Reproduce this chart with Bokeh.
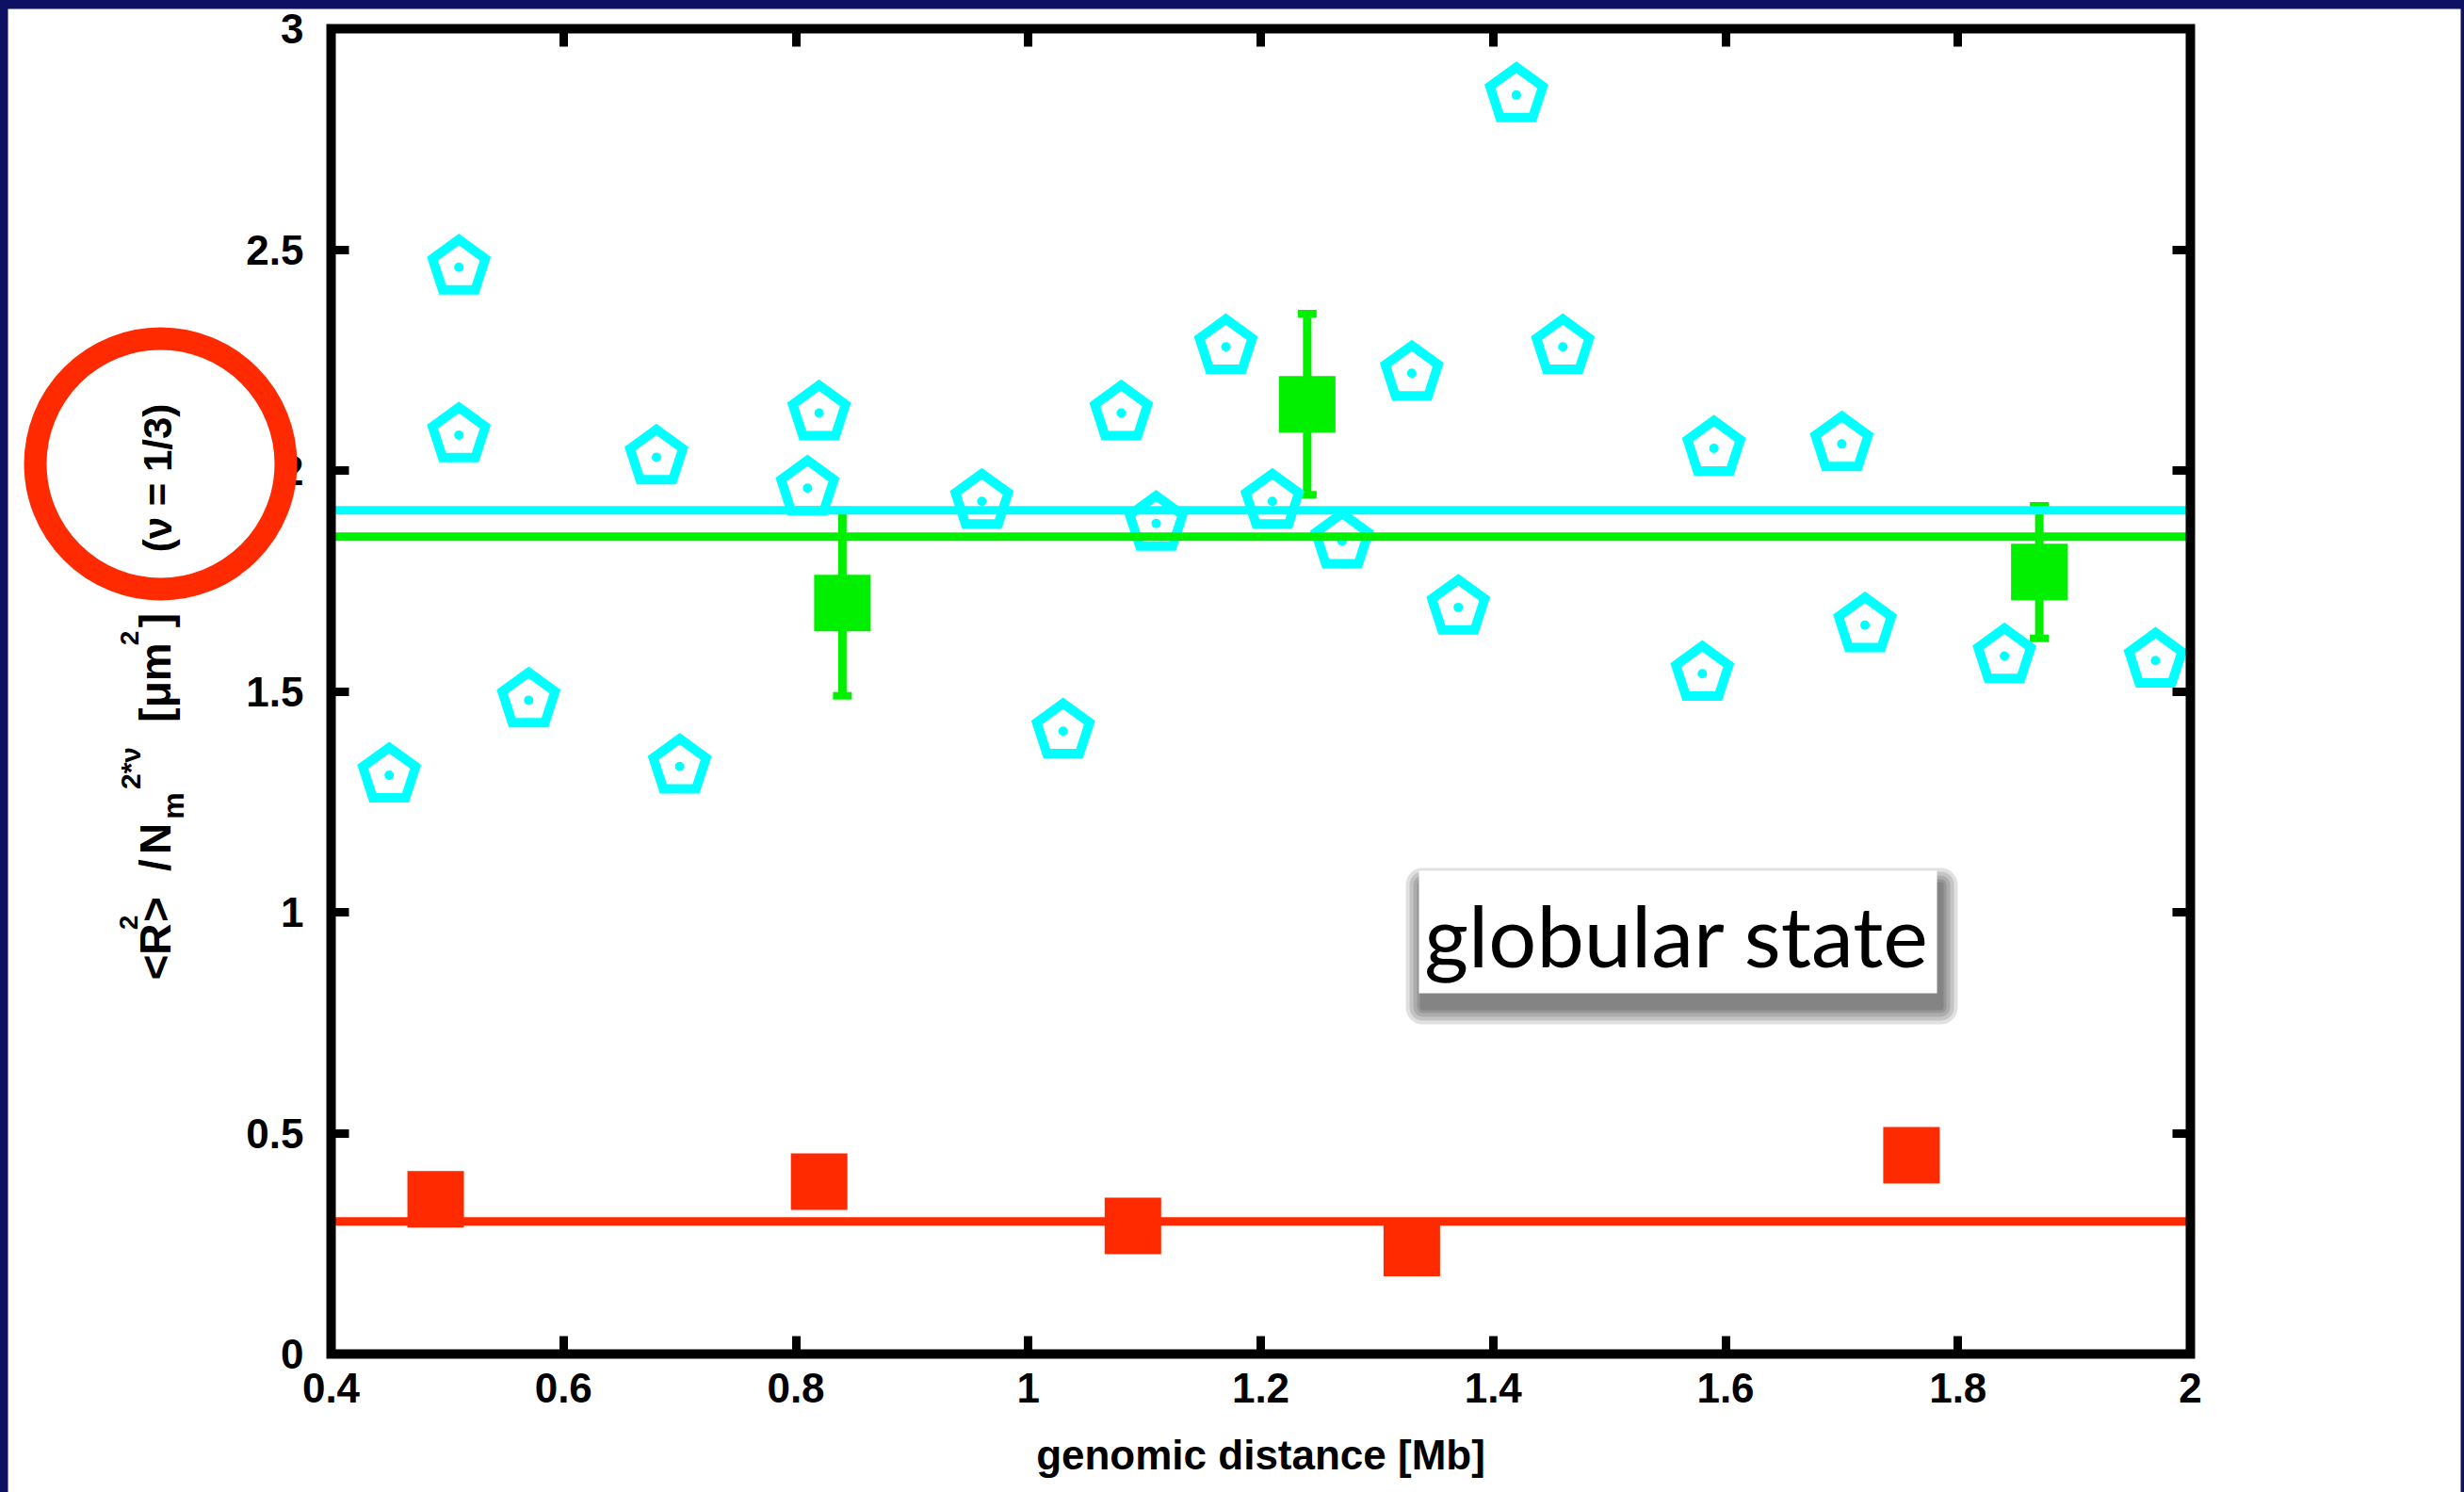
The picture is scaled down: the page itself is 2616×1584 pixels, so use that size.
import math
from bokeh.plotting import figure
from bokeh.models import (ColumnDataSource, Whisker, TeeHead, BoxAnnotation, Label,
                          LinearAxis, FixedTicker, CustomJSTickFormatter, Range1d)
from bokeh.embed import file_html
from bokeh.resources import INLINE

# ---------------- data ----------------
cyan_x = [0.45, 0.51, 0.51, 0.57, 0.68, 0.70, 0.82, 0.81, 0.96, 1.03, 1.08, 1.11, 1.17,
          1.21, 1.27, 1.33, 1.37, 1.42, 1.46, 1.58, 1.59, 1.70, 1.72, 1.84, 1.97]
cyan_y = [1.31, 2.46, 2.08, 1.48, 2.03, 1.33, 2.13, 1.96, 1.93, 1.41, 2.13, 1.88, 2.28,
          1.93, 1.84, 2.22, 1.69, 2.85, 2.28, 1.54, 2.05, 2.06, 1.65, 1.58, 1.57]
green_x = [0.84, 1.24, 1.87]
green_y = [1.70, 2.15, 1.77]
green_err = [0.21, 0.205, 0.15]
red_x = [0.49, 0.82, 1.09, 1.33, 1.76]
red_y = [0.35, 0.39, 0.29, 0.24, 0.45]
cyan_fit = 1.91
green_fit = 1.85
red_fit = 0.30
x_ticks = [0.4, 0.6, 0.8, 1.0, 1.2, 1.4, 1.6, 1.8, 2.0]
x_tick_labels = ["0.4", "0.6", "0.8", "1", "1.2", "1.4", "1.6", "1.8", "2"]
y_ticks = [0.0, 0.5, 1.0, 1.5, 2.0, 2.5, 3.0]
y_tick_labels = ["0", "0.5", "1", "1.5", "2", "2.5", "3"]
x_title = "genomic distance [Mb]"
note_text = "globular state"

# ---------------- layout / style ----------------
W, H = 2616, 1584
PL, PR, PT, PB = 351, 2325, 30, 1437     # plot box in page pixels
X0, X1 = x_ticks[0], x_ticks[-1]
Y0, Y1 = y_ticks[0], y_ticks[-1]
kx = (PR - PL) / (X1 - X0)
ky = (PB - PT) / (Y1 - Y0)
CYAN = "#00FFFF"
GREEN = "#00F000"
RED = "#FF2A00"
NAVY = "#0E1163"
FONT = "Liberation Sans"


def dx(page_x):          # page pixel -> data x
    return X0 + (page_x - PL) / kx


def dy(page_y):          # page pixel -> data y
    return Y0 + (PB - page_y) / ky


p = figure(width=W, height=H, output_backend="svg", toolbar_location=None,
           x_range=Range1d(dx(0), dx(W)), y_range=Range1d(dy(H), dy(0)),
           x_axis_location=None, y_axis_location=None,
           min_border=0, min_border_left=0, min_border_right=0,
           min_border_top=0, min_border_bottom=0)
p.grid.visible = False
p.background_fill_color = "white"
p.border_fill_color = "white"
p.outline_line_color = None


def style_axis(ax):
    ax.axis_line_color = None
    ax.major_tick_in = 19
    ax.major_tick_out = 0
    ax.major_tick_line_width = 9
    ax.major_tick_line_color = "black"
    ax.minor_tick_line_color = None
    ax.major_label_text_font = FONT
    ax.major_label_text_font_style = "bold"
    ax.major_label_text_font_size = "44px"
    ax.major_label_text_color = "black"


blank = CustomJSTickFormatter(code="return ''")

xa = LinearAxis(fixed_location=Y0, bounds=(X0, X1), ticker=FixedTicker(ticks=x_ticks),
                major_label_overrides=dict(zip(x_ticks, x_tick_labels)))
style_axis(xa)
xa.major_label_standoff = 20
xa.axis_label = x_title
xa.axis_label_text_font = FONT
xa.axis_label_text_font_style = "bold"
xa.axis_label_text_font_size = "44px"
xa.axis_label_text_color = "black"
xa.axis_label_standoff = 28
p.add_layout(xa, "below")

ya = LinearAxis(fixed_location=X0, bounds=(Y0, Y1), ticker=FixedTicker(ticks=y_ticks),
                major_label_overrides=dict(zip(y_ticks, y_tick_labels)))
style_axis(ya)
ya.major_label_standoff = 29
p.add_layout(ya, "left")

top_ax = LinearAxis(fixed_location=Y1, bounds=(X0, X1), ticker=FixedTicker(ticks=x_ticks),
                    formatter=blank, major_label_standoff=0)
style_axis(top_ax)
p.add_layout(top_ax, "above")
right_ax = LinearAxis(fixed_location=X1, bounds=(Y0, Y1), ticker=FixedTicker(ticks=y_ticks),
                      formatter=blank, major_label_standoff=0)
style_axis(right_ax)
p.add_layout(right_ax, "right")

# ---------------- data marks ----------------
cyan_src = ColumnDataSource(dict(x=cyan_x, y=cyan_y))
p.ngon(x="x", y="y", radius=29.5, radius_units="screen", n=5, angle=0.0,
       source=cyan_src, fill_color=None, line_color=CYAN, line_width=10, line_join="miter")
p.scatter(x="x", y="y", source=cyan_src, size=10, marker="circle",
          fill_color=CYAN, line_color=None)
p.segment(x0=[X0], x1=[X1], y0=[cyan_fit], y1=[cyan_fit], line_color=CYAN, line_width=9)

green_src = ColumnDataSource(dict(
    x=green_x, y=green_y,
    lo=[v - e for v, e in zip(green_y, green_err)],
    up=[v + e for v, e in zip(green_y, green_err)]))
p.scatter(x="x", y="y", source=green_src, marker="square", size=60,
          fill_color=GREEN, line_color=None)
p.add_layout(Whisker(source=green_src, base="x", lower="lo", upper="up", dimension="height",
                     line_color=GREEN, line_width=9,
                     upper_head=TeeHead(size=20, line_width=8, line_color=GREEN),
                     lower_head=TeeHead(size=20, line_width=8, line_color=GREEN)))
p.segment(x0=[X0], x1=[X1], y0=[green_fit], y1=[green_fit], line_color=GREEN, line_width=9)

red_src = ColumnDataSource(dict(x=red_x, y=red_y))
p.scatter(x="x", y="y", source=red_src, marker="square", size=60,
          fill_color=RED, line_color=None)
p.segment(x0=[X0], x1=[X1], y0=[red_fit], y1=[red_fit], line_color=RED, line_width=9)

# plot box
p.add_layout(BoxAnnotation(left=X0, right=X1, bottom=Y0, top=Y1,
                           fill_color=None, fill_alpha=0, line_color="black",
                           line_alpha=1.0, line_width=10, line_join="miter"))

# ---------------- "globular state" note box ----------------
bl, br, bt, bb = dx(1506), dx(2056), dy(924), dy(1054)
for s in [18, 14, 10, 6, 3]:
    p.add_layout(BoxAnnotation(left=dx(1506 + 4 - s), right=dx(2056 + 4 + s),
                               top=dy(924 + 15 - s), bottom=dy(1054 + 15 + s),
                               fill_color="black", fill_alpha=0.12, line_color=None,
                               line_alpha=0, border_radius=s))
p.add_layout(BoxAnnotation(left=bl, right=br, top=bt, bottom=bb,
                           fill_color="white", fill_alpha=1.0, line_color=None, line_alpha=0))
p.add_layout(Label(x=dx(1780), y=dy(1023 - 32), text=note_text,
                   text_font="Lato", text_font_size="90px", text_color="black",
                   text_align="center", text_baseline="alphabetic"))

# ---------------- y-axis label (rotated pieces) ----------------
ylabel_parts = [
    # text, center (page y), right ink edge / baseline (page x), size
    ("<R", 1010, 183, 46),
    ("2", 979, 147, 28),
    (">", 965, 183, 46),
    ("/", 918, 183, 46),
    ("N", 890, 183, 46),
    ("m", 855, 196, 32),
    ("2*ν", 815, 150, 30),
    ("[μm", 724, 183, 46),
    ("2", 677, 148, 28),
    ("]", 658, 183, 46),
    ("(ν = 1/3)", 507, 184, 42),
]
for txt, cy, bx, sz in ylabel_parts:
    p.add_layout(Label(x=dx(bx - 0.4 * sz), y=dy(cy), text=txt,
                       angle=math.pi / 2, text_align="center", text_baseline="alphabetic",
                       text_font=FONT, text_font_style="bold",
                       text_font_size=f"{sz}px", text_color="black"))

# red ring annotation
cx, cyy, rr = 170, 492, 133
p.add_layout(BoxAnnotation(left=dx(cx - rr), right=dx(cx + rr), top=dy(cyy - rr), bottom=dy(cyy + rr),
                           fill_color=None, fill_alpha=0, line_color=RED, line_alpha=1.0,
                           line_width=24, border_radius=rr, level="overlay"))

# navy slide border strips (top, left, right)
strip_l = [dx(-10), dx(-10), dx(2612)]
strip_r = [dx(W + 10), dx(8), dx(W + 10)]
strip_t = [dy(-10), dy(-10), dy(-10)]
strip_b = [dy(9), dy(H + 10), dy(H + 10)]
p.quad(left=strip_l, right=strip_r, top=strip_t, bottom=strip_b,
       fill_color=NAVY, line_color=None, level="overlay")

open("out.html", "w").write(file_html(p, INLINE))
